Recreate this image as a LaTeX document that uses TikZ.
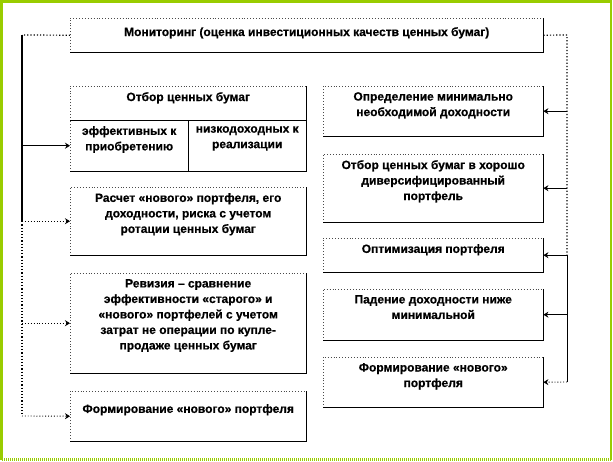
\documentclass[tikz,border=0pt]{standalone}
\usepackage{fontspec}
\setmainfont{Liberation Sans}[BoldFeatures={FakeBold=0.6}]
\usetikzlibrary{arrows.meta}
\definecolor{pfFrame}{HTML}{99CC00}
\definecolor{pfDot}{HTML}{4A4A4A}
\tikzset{
  pf diagram/.style={x=1pt, y=-1pt},
  pf cell/.style={inner sep=0pt, anchor=north west,
    font=\bfseries\fontsize{12}{15.5}\selectfont},
  pf edge/.style={draw=black, line width=1.1pt},
  pf edge dot/.style={draw=pfDot, line width=0.9pt, dotted},
  pf link/.style={draw=black, line width=1.6pt},
  pf link dot/.style={draw=black, line width=1.2pt, dotted},
  pf arrow/.style={draw=black, line width=0.9pt, -{Stealth[length=5pt,width=6pt]}},
  pf arrow dot/.style={pf arrow, dotted},
  pf frame/.style={draw=pfFrame, line width=2.5pt},
  pf frame dot/.style={pf frame, dash pattern=on 1pt off 1pt}
}
% box text: width, height, top gap, lines
\newcommand{\pfcell}[4]{\parbox[c][#2][t]{#1}{\centering\vspace*{#3}#4\par}}
% dotted top/left, solid right/bottom
\newcommand{\pfframe}[1]{%
  \draw[pf edge dot] (#1.south west) |- (#1.north east);
  \draw[pf edge] (#1.south west) -| (#1.north east);}
\begin{document}
\begin{tikzpicture}[pf diagram]
\useasboundingbox (0,0) rectangle (613,461);
\draw[pf frame] (1.5,459.5) -- (1.5,1.5) -- (611,1.5) -- (611,459.5);
\draw[pf frame dot] (611,459.5) -- (1.5,459.5) -- (1.5,1.5);
% top
\node[pf cell] (mon) at (70,18) {\pfcell{473pt}{34pt}{9pt}{Мониторинг (оценка инвестиционных качеств ценных бумаг)}};
% left column
\node[pf cell] (head) at (70,86) {\pfcell{236pt}{34pt}{6pt}{Отбор ценных бумаг}};
\node[pf cell] (eff) at (70,120) {\pfcell{118pt}{51pt}{6pt}{эффективных к\\приобретению}};
\node[pf cell] (low) at (188,120) {\pfcell{118pt}{51pt}{6pt}{низкодоходных к\\реализации}};
\node[pf cell] (calc) at (70,187) {\pfcell{236pt}{68pt}{6pt}{Расчет «нового» портфеля, его\\доходности, риска с учетом\\ротации ценных бумаг}};
\node[pf cell] (rev) at (70,273) {\pfcell{236pt}{100pt}{6pt}{Ревизия – сравнение\\эффективности «старого» и\\«нового» портфелей с учетом\\затрат не операции по купле-\\продаже ценных бумаг}};
\node[pf cell] (formL) at (70,391) {\pfcell{236pt}{50pt}{13pt}{Формирование «нового» портфеля}};
% right column
\node[pf cell] (minr) at (323,86) {\pfcell{220pt}{50pt}{6pt}{Определение минимально\\необходимой доходности}};
\node[pf cell] (div) at (323,154) {\pfcell{220pt}{68pt}{6pt}{Отбор ценных бумаг в хорошо\\диверсифицированный\\портфель}};
\node[pf cell] (opt) at (323,238) {\pfcell{220pt}{34pt}{6pt}{Оптимизация портфеля}};
\node[pf cell] (fall) at (323,289) {\pfcell{220pt}{51pt}{6pt}{Падение доходности ниже\\минимальной}};
\node[pf cell] (formR) at (323,357) {\pfcell{220pt}{50pt}{6pt}{Формирование «нового»\\портфеля}};
\pfframe{mon}
\pfframe{low}
\pfframe{eff}
\pfframe{head}
\pfframe{calc}
\pfframe{rev}
\pfframe{formL}
\pfframe{minr}
\pfframe{div}
\pfframe{opt}
\pfframe{fall}
\pfframe{formR}
% connectors
\coordinate (lt) at (22,35);
\coordinate (lb) at (22,416);
\coordinate (rt) at (567,35);
\coordinate (rb) at (567,382);
\draw[pf link dot] (mon.west) -- (lt);
\draw[pf link] (lt) -- (calc.west -| lt);
\draw[pf link dot] (calc.west -| lt) -- (lb);
\draw[pf arrow] (eff.west -| lt) -- (eff.west);
\draw[pf arrow dot] (calc.west -| lt) -- (calc.west);
\draw[pf arrow dot] (rev.west -| lt) -- (rev.west);
\draw[pf arrow dot] (lb) -- (formL.west);
\draw[pf link dot] (mon.east) -- (rt) -- (opt.east -| rt);
\draw[pf link, line width=1pt] (opt.east -| rt) -- (rb);
\draw[pf arrow] (minr.east -| rt) -- (minr.east);
\draw[pf arrow] (div.east -| rt) -- (div.east);
\draw[pf arrow] (opt.east -| rt) -- (opt.east);
\draw[pf arrow] (fall.east -| rt) -- (fall.east);
\draw[pf arrow dot] (rb) -- (formR.east);
\end{tikzpicture}
\end{document}
